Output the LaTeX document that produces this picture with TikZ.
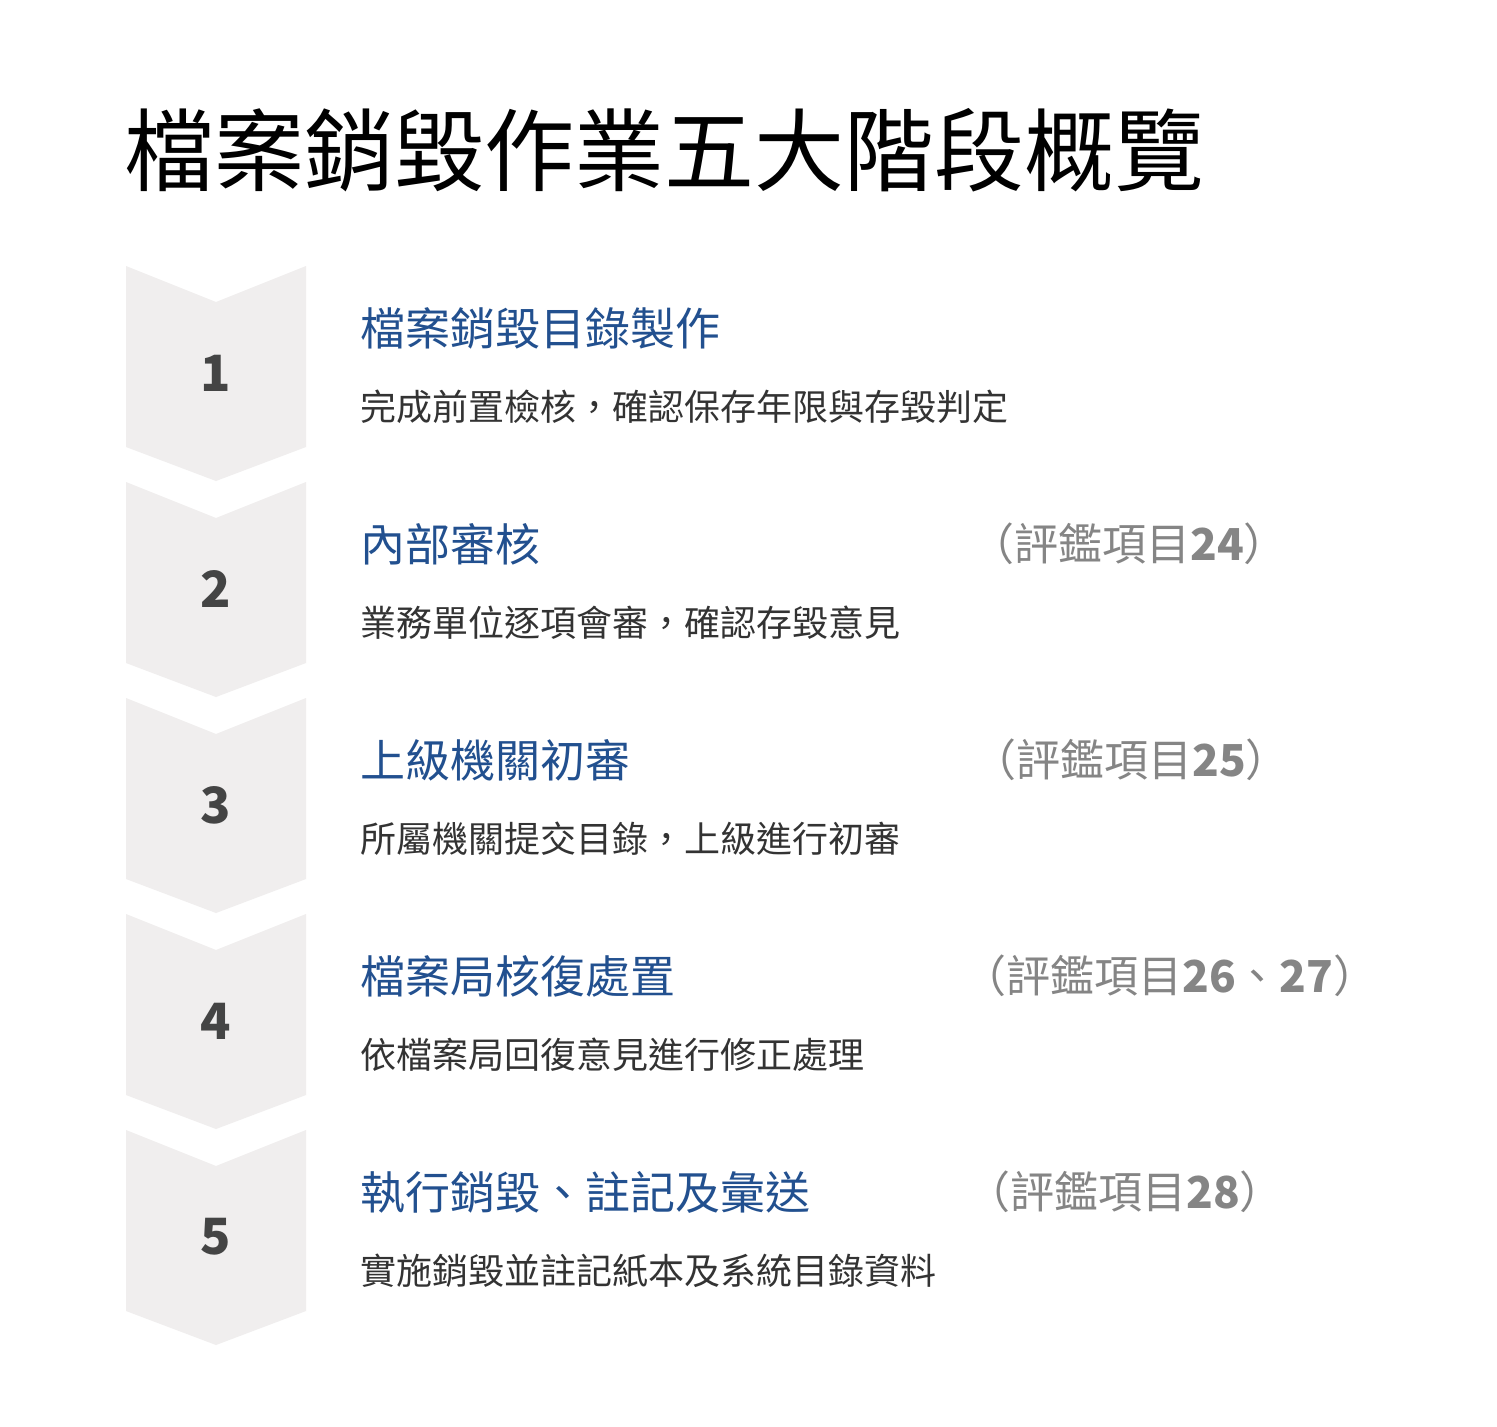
\documentclass[tikz,border=0pt]{standalone}
\usepackage{fontspec}
\setmainfont{Noto Sans CJK TC}
\usepackage{tikz}
\usetikzlibrary{positioning}

\definecolor{chevgray}{HTML}{F0EEEE}
\definecolor{numgray}{HTML}{444444}
\definecolor{titleblue}{HTML}{22508F}
\definecolor{descgray}{HTML}{333333}
\definecolor{taggray}{HTML}{858585}

\tikzset{
    chevron/.style={
           fill=chevgray,
           draw=none,
           },
    stepnum/.style={
           text=numgray,
           font=\fontsize{50}{50}\selectfont\bfseries,
           inner sep=0pt,
           },
    steptitle/.style={
           text=titleblue,
           font=\fontsize{45}{45}\selectfont,
           inner sep=0pt,
           },
    stepdesc/.style={
           text=descgray,
           font=\fontsize{36}{36}\selectfont,
           inner sep=0pt,
           },
    steptag/.style={
           text=taggray,
           font=\fontsize{44}{44}\selectfont,
           inner sep=0pt,
           anchor=west,
           },
}

\begin{document}
\begin{tikzpicture}[x=1pt,y=-1pt]

 % page frame
 \useasboundingbox[fill=white] (0,0) rectangle (1497,1427);

 % heading
 \node[inner sep=0pt, anchor=west,
  font=\fontsize{90}{90}\selectfont] (Heading) at (124,150)
  {檔案銷毀作業五大階段概覽};

 % chevrons down the left side
 \fill[chevron] (126,266) -- (216,302) -- (306,266) -- (306,447) -- (216,481) -- (126,447) -- cycle;
 \fill[chevron] (126,482) -- (216,518) -- (306,482) -- (306,663) -- (216,697) -- (126,663) -- cycle;
 \fill[chevron] (126,698) -- (216,734) -- (306,698) -- (306,879) -- (216,913) -- (126,879) -- cycle;
 \fill[chevron] (126,914) -- (216,950) -- (306,914) -- (306,1095) -- (216,1129) -- (126,1095) -- cycle;
 \fill[chevron] (126,1130) -- (216,1166) -- (306,1130) -- (306,1311) -- (216,1345) -- (126,1311) -- cycle;

 % step numbers
 \node[stepnum] (Num1) at (216,373) {1};
 \node[stepnum] (Num2) at (216,589) {2};
 \node[stepnum] (Num3) at (216,805) {3};
 \node[stepnum] (Num4) at (216,1021) {4};
 \node[stepnum] (Num5) at (216,1237) {5};

 % STEP 1
 \node[steptitle, anchor=west] (Title1) at (360,328) {檔案銷毀目錄製作};
 \node[stepdesc, below=79pt of Title1.west, anchor=west] (Desc1) {完成前置檢核，確認保存年限與存毀判定};

 % STEP 2
 \node[steptitle, anchor=west] (Title2) at (360,544) {內部審核};
 \node[stepdesc, below=79pt of Title2.west, anchor=west] (Desc2) {業務單位逐項會審，確認存毀意見};
 \node[steptag] (Tag2) at (970,544) {（評鑑項目\textbf{24}）};

 % STEP 3
 \node[steptitle, anchor=west] (Title3) at (360,760) {上級機關初審};
 \node[stepdesc, below=79pt of Title3.west, anchor=west] (Desc3) {所屬機關提交目錄，上級進行初審};
 \node[steptag] (Tag3) at (972,760) {（評鑑項目\textbf{25}）};

 % STEP 4
 \node[steptitle, anchor=west] (Title4) at (360,976) {檔案局核復處置};
 \node[stepdesc, below=79pt of Title4.west, anchor=west] (Desc4) {依檔案局回復意見進行修正處理};
 \node[steptag] (Tag4) at (962,976) {（評鑑項目\textbf{26}、\textbf{27}）};

 % STEP 5
 \node[steptitle, anchor=west] (Title5) at (360,1192) {執行銷毀、註記及彙送};
 \node[stepdesc, below=79pt of Title5.west, anchor=west] (Desc5) {實施銷毀並註記紙本及系統目錄資料};
 \node[steptag] (Tag5) at (966,1192) {（評鑑項目\textbf{28}）};

\end{tikzpicture}
\end{document}
